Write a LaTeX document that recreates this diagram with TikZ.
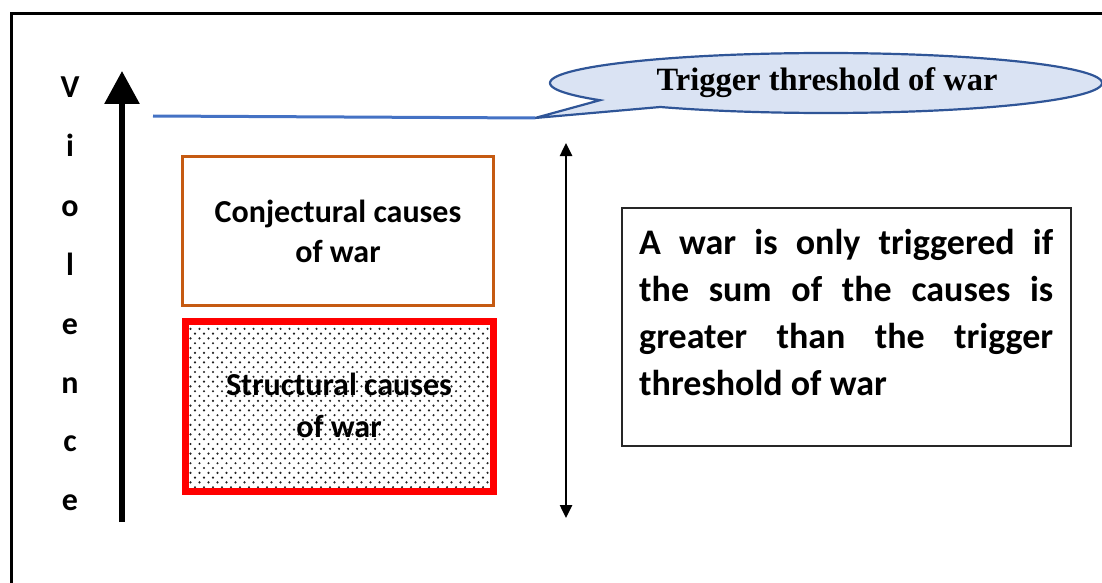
\documentclass[tikz,border=0pt]{standalone}
\usepackage{fontspec}
\setmainfont{Carlito}
\newfontfamily\titlefont{Liberation Serif}
\usetikzlibrary{arrows.meta}
\definecolor{orangeb}{HTML}{C55A11}
\definecolor{blueline}{HTML}{4472C4}
\definecolor{calfill}{HTML}{DAE3F3}
\definecolor{caldraw}{HTML}{2F5597}
\definecolor{dotc}{HTML}{202020}
\begin{document}
\begin{tikzpicture}[x=1pt,y=-1pt,
  letter/.style={font=\fontsize{32}{32}\selectfont\bfseries, anchor=base, inner sep=0pt},
  boxtxt/.style={font=\fontsize{32}{40}\selectfont\bfseries, anchor=base, inner sep=0pt},
  bigtxt/.style={font=\fontsize{36}{47}\selectfont\bfseries, anchor=base west, inner sep=0pt},
  calltxt/.style={font=\titlefont\fontsize{32.5}{36}\selectfont\bfseries, anchor=base, inner sep=0pt}]
\useasboundingbox (0,0) rectangle (1102,583);
\clip (0,0) rectangle (1102,583);
% frame
\draw[line width=3pt] (11,600) -- (11,14) -- (1110,14);
% Violence letters
\foreach \ch/\yy/\nm in {V/98/a,i/157/b,o/216/c,l/275/d,e/334/e,n/393/f,c/451/g,e/510/h}
  \node[letter] (v\nm) at (70,\yy) {\ch};
% big arrow
\coordinate (axb) at (122,522);
\coordinate (axt) at (122,71);
\draw[line width=6pt, -{Triangle[width=34pt,length=33pt]}] (axb) -- (axt);
% callout
\coordinate (tip) at (535,118);
\coordinate (bl) at (153,116);
\draw[fill=calfill, draw=caldraw, line width=2.2pt, line join=miter]
  (tip) -- plot[domain=145:486.9, samples=160] ({826+276*cos(\x)},{83+30*sin(\x)}) -- cycle;
\node[calltxt] (title) at (827,91) {Trigger threshold of war};
% blue threshold line
\draw[blueline, line width=3pt] (bl) -- (tip);
% double arrow
\coordinate (dt) at (566,143);
\coordinate (db) at (566,518);
\draw[line width=2.5pt, {Triangle[width=12pt,length=13pt]}-{Triangle[width=12pt,length=13pt]}] (dt) -- (db);
% conjectural box
\draw[orangeb, line width=3pt] (182.5,156.5) rectangle (493.5,305.5);
\node[boxtxt] (c1) at (338,222) {Conjectural causes};
\node[boxtxt] (c2) at (338,262) {of war};
% structural box with dots
\begin{scope}
\clip (185,321) rectangle (494,492);
\foreach \r in {0,...,36} {
  \pgfmathsetmacro{\yy}{324+\r*4.8}
  \pgfmathsetmacro{\off}{mod(\r,2)*4.5}
  \foreach \c in {0,...,35} {
    \fill[dotc] ({186+\off+\c*9},\yy) circle (1.2);
  }
}
\end{scope}
\draw[red, line width=6.5pt] (185.5,321.5) rectangle (493.5,491.5);
\node[boxtxt] (s1) at (339,395) {Structural causes};
\node[boxtxt] (s2) at (339,437) {of war};
% text box
\draw[line width=1.3pt, draw=black!85] (622,208) rectangle (1071,446);
\node[bigtxt] (t1) at (639,254) {\makebox[414pt][s]{A war is only triggered if}};
\node[bigtxt] (t2) at (639,301) {\makebox[414pt][s]{the sum of the causes is}};
\node[bigtxt] (t3) at (639,348) {\makebox[414pt][s]{greater than the trigger}};
\node[bigtxt] (t4) at (639,395) {threshold of war};
\end{tikzpicture}
\end{document}
